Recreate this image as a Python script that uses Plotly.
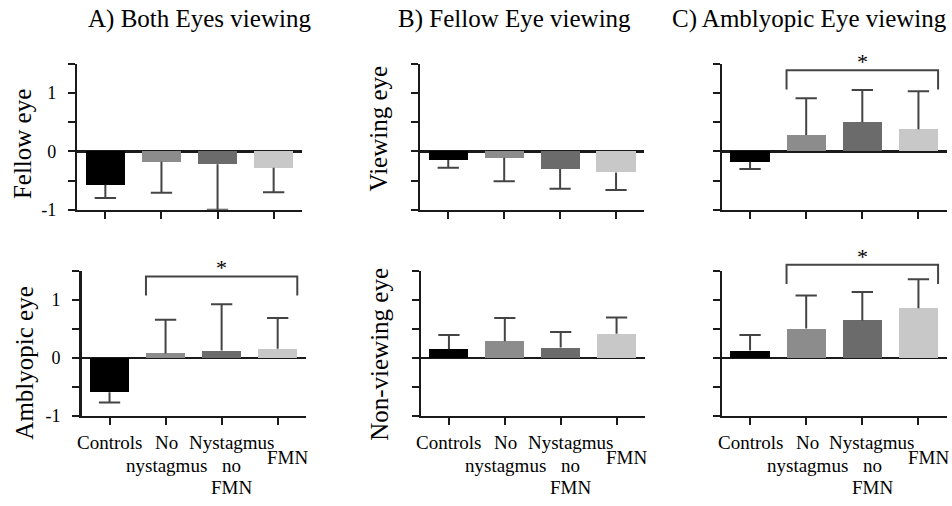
import plotly.graph_objects as go

# ---------------- data ----------------
categories = ["Controls", "No nystagmus", "Nystagmus no FMN", "FMN"]
tick_labels = ["Controls", "No<br>nystagmus", "Nystagmus<br>no<br>FMN", "FMN"]
bar_colors = ["#000000", "#8c8c8c", "#6b6b6b", "#c8c8c8"]

panel_titles = ["A) Both Eyes viewing", "B) Fellow Eye viewing", "C) Amblyopic Eye viewing"]
row_labels_A = ["Fellow eye", "Amblyopic eye"]
row_labels_B = ["Viewing eye", "Non-viewing eye"]
y_range = [-1, 1.5]
y_tick_vals = [-1, -0.5, 0, 0.5, 1, 1.5]
y_tick_text = ["-1", "", "0", "", "1", ""]

A_fellow = [-0.57, -0.18, -0.22, -0.28]
A_fellow_err = [0.23, 0.53, 0.78, 0.42]
A_amblyopic = [-0.59, 0.08, 0.13, 0.16]
A_amblyopic_err = [0.18, 0.58, 0.80, 0.53]

B_viewing = [-0.15, -0.11, -0.30, -0.36]
B_viewing_err = [0.13, 0.40, 0.34, 0.30]
B_nonviewing = [0.15, 0.29, 0.18, 0.42]
B_nonviewing_err = [0.25, 0.40, 0.27, 0.28]

C_viewing = [-0.18, 0.28, 0.50, 0.38]
C_viewing_err = [0.12, 0.63, 0.55, 0.65]
C_nonviewing = [0.13, 0.51, 0.65, 0.86]
C_nonviewing_err = [0.27, 0.57, 0.49, 0.50]

# significance brackets: (panel index, first category, last category, bracket height)
sig_brackets = [(2, 1, 3, 1.41), (5, 1, 3, 1.39), (6, 1, 3, 1.61)]

# ---------------- layout geometry (style) ----------------
W, H = 952, 506
FONT = "Times New Roman, Liberation Serif, serif"
LINE = "#1a1a1a"
ERRC = "#444444"
BAR_W = 0.7
CAP = 0.19
LEG = 0.33

def px_x(p):
    return p / W

def px_y(p):
    return 1 - p / H

# (x0, x1, ytop, ybottom) in pixels for panels 1..6
panels = {
    1: (77.3, 301.7, 65, 214),
    2: (81.5, 305.7, 276.7, 424.3),
    3: (420.3, 644.0, 65, 214),
    4: (421.0, 644.5, 276.7, 424.3),
    5: (722.0, 946.5, 65, 214),
    6: (722.0, 946.5, 276.7, 424.3),
}
panel_data = {
    1: (A_fellow, A_fellow_err),
    2: (A_amblyopic, A_amblyopic_err),
    3: (B_viewing, B_viewing_err),
    4: (B_nonviewing, B_nonviewing_err),
    5: (C_viewing, C_viewing_err),
    6: (C_nonviewing, C_nonviewing_err),
}

fig = go.Figure()
layout = dict(
    width=W, height=H,
    margin=dict(l=0, r=0, t=0, b=0),
    paper_bgcolor="white", plot_bgcolor="white",
    showlegend=False, barmode="group", bargap=0,
    font=dict(family=FONT, color="black"),
)
annotations = []
shapes = []

def to_domain(v):
    return (v - y_range[0]) / (y_range[1] - y_range[0])

for k, (x0, x1, yt, yb) in panels.items():
    sfx = "" if k == 1 else str(k)
    xa, ya = "x" + sfx, "y" + sfx
    vals, errs = panel_data[k]
    idx = list(range(len(categories)))

    fig.add_trace(go.Bar(
        x=idx, y=vals, width=BAR_W, marker=dict(color=bar_colors, line=dict(width=0)),
        xaxis=xa, yaxis=ya, hovertext=categories,
    ))

    # one-sided error bars from the bar end outward
    ex, ey = [], []
    for i, v, e in zip(idx, vals, errs):
        end = v + e if v >= 0 else v - e
        ex += [i, i, None, i - CAP, i + CAP, None]
        ey += [v, end, None, end, end, None]
    fig.add_trace(go.Scatter(
        x=ex, y=ey, mode="lines", line=dict(color=ERRC, width=2),
        xaxis=xa, yaxis=ya, cliponaxis=False, hoverinfo="skip",
    ))

    layout["xaxis" + sfx] = dict(
        domain=[px_x(x0), px_x(x1)], anchor=ya, range=[-0.5, 3.5],
        showline=True, linewidth=2.5, linecolor=LINE,
        ticks="outside", ticklen=7, tickwidth=2, tickcolor=LINE,
        tickvals=idx, showticklabels=False, showgrid=False, zeroline=False,
        fixedrange=True,
    )
    layout["yaxis" + sfx] = dict(
        domain=[px_y(yb), px_y(yt)], anchor=xa, range=y_range,
        showline=True, linewidth=2.5, linecolor=LINE,
        ticks="outside", ticklen=7, tickwidth=2, tickcolor=LINE,
        tickvals=y_tick_vals,
        ticktext=y_tick_text if k in (1, 2) else [""] * len(y_tick_vals),
        tickfont=dict(family=FONT, size=18, color="black"),
        ticklabelstandoff=8,
        showgrid=False, zeroline=True, zerolinewidth=2.5, zerolinecolor=LINE,
        fixedrange=True,
    )

    # category labels under bottom panels (one annotation per text line)
    if k in (2, 4, 6):
        xshifts = [0, 1, 10, 10]
        first_line = [-27, -27, -27, -42]
        for i, lab in enumerate(tick_labels):
            for j, part in enumerate(lab.split("<br>")):
                annotations.append(dict(
                    x=i, y=y_range[0], xref=xa, yref=ya, text=part, showarrow=False,
                    xanchor="center", yanchor="middle",
                    xshift=xshifts[i], yshift=first_line[i] - 22.5 * j,
                    font=dict(family=FONT, size=19, color="black"),
                ))

# significance brackets (y in axis-domain units so they may sit above the axis top)
for k, a, b, h in sig_brackets:
    sfx = "" if k == 1 else str(k)
    xa, ya = "x" + sfx, "y" + sfx
    xl, xr = a - BAR_W / 2, b + BAR_W / 2
    ytop, yleg = to_domain(h), to_domain(h - LEG)
    shapes.append(dict(
        type="path", xref=xa, yref=ya + " domain",
        path=f"M {xl} {yleg} L {xl} {ytop} L {xr} {ytop} L {xr} {yleg}",
        line=dict(color=ERRC, width=2),
    ))
    annotations.append(dict(
        x=(a + b) / 2, y=ytop, xref=xa, yref=ya + " domain", text="*", showarrow=False,
        xanchor="center", yanchor="bottom", yshift=-6,
        font=dict(family=FONT, size=22, color="black"),
    ))

# panel titles
for t, cx in zip(panel_titles, [199, 514, 809]):
    annotations.append(dict(
        x=px_x(cx), y=px_y(19), xref="paper", yref="paper", text=t, showarrow=False,
        xanchor="center", yanchor="middle", font=dict(family=FONT, size=25, color="black"),
    ))

# row labels (y-axis titles)
for t, cx, cy in [(row_labels_A[0], 22, 147), (row_labels_A[1], 25, 371),
                  (row_labels_B[0], 378, 131), (row_labels_B[1], 380, 362)]:
    annotations.append(dict(
        x=px_x(cx), y=px_y(cy), xref="paper", yref="paper", text=t, showarrow=False,
        textangle=-90, xanchor="center", yanchor="middle",
        font=dict(family=FONT, size=25, color="black"),
    ))

layout["annotations"] = annotations
layout["shapes"] = shapes
fig.update_layout(**layout)
fig.write_html(
    "out.html",
    config={"displayModeBar": False, "staticPlot": True},
    post_script="document.body.style.margin='0';document.body.style.padding='0';",
)
